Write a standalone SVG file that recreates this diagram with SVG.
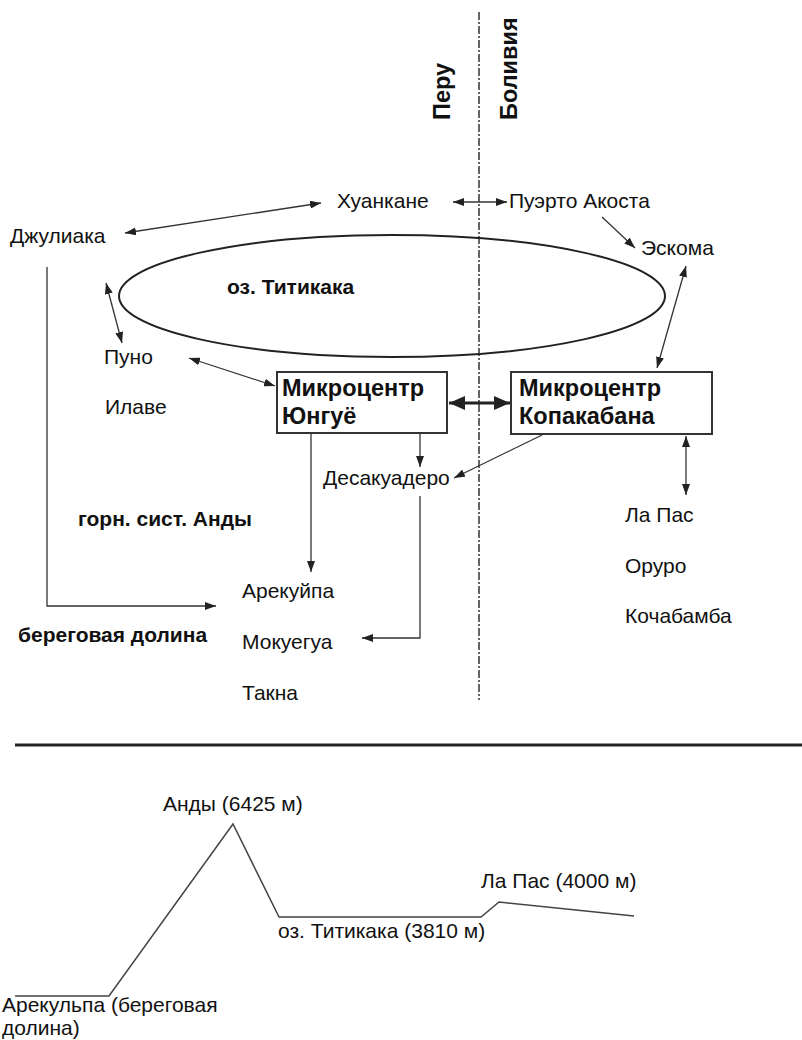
<svg xmlns="http://www.w3.org/2000/svg" width="802" height="1040" viewBox="0 0 802 1040">
<style>
  text { font-family: "Liberation Sans", Arial, sans-serif; fill: #111; }
  .t { font-size: 21px; }
  .b { font-size: 21px; font-weight: bold; }
  .bb { font-size: 23.5px; font-weight: bold; }
  .c { fill: none; stroke: #333; stroke-width: 1.3; }
  .box { fill: #fff; stroke: #333; stroke-width: 2; }
</style>
<defs>
  <marker id="ah" viewBox="0 0 11 8" refX="11" refY="4" markerWidth="11" markerHeight="8" markerUnits="userSpaceOnUse" orient="auto-start-reverse">
    <path d="M0,0 L11,4 L0,8 z" fill="#222"/>
  </marker>
  <marker id="ahb" viewBox="0 0 16 14" refX="16" refY="7" markerWidth="16" markerHeight="14" markerUnits="userSpaceOnUse" orient="auto-start-reverse">
    <path d="M0,0 L16,7 L0,14 z" fill="#222"/>
  </marker>
</defs>

<g id="border">
  <line x1="479" y1="12" x2="479" y2="700" stroke="#333" stroke-width="1.5" stroke-dasharray="8 2 2 2"/>
</g>

<g id="lake">
  <ellipse cx="392" cy="296" rx="273" ry="61" fill="none" stroke="#222" stroke-width="2"/>
  <text class="b" x="227" y="294">оз. Титикака</text>
</g>

<g id="connectors">
  <line class="c" x1="125" y1="233" x2="321" y2="203" marker-start="url(#ah)" marker-end="url(#ah)"/>
  <line class="c" x1="453" y1="202" x2="507" y2="202" marker-start="url(#ah)" marker-end="url(#ah)"/>
  <line class="c" x1="602" y1="217" x2="635" y2="248" marker-end="url(#ah)"/>
  <line class="c" x1="686" y1="266" x2="657" y2="368" marker-start="url(#ah)" marker-end="url(#ah)"/>
  <line class="c" x1="106" y1="283" x2="122" y2="343" marker-start="url(#ah)" marker-end="url(#ah)"/>
  <line class="c" x1="189" y1="358" x2="275" y2="386" marker-start="url(#ah)" marker-end="url(#ah)"/>
  <line x1="449" y1="403" x2="510" y2="403" stroke="#222" stroke-width="3" marker-start="url(#ahb)" marker-end="url(#ahb)"/>
  <line class="c" x1="420" y1="434" x2="420" y2="467" marker-end="url(#ah)"/>
  <line class="c" x1="542" y1="435" x2="454" y2="478" marker-end="url(#ah)"/>
  <line class="c" x1="686" y1="436" x2="686" y2="495" marker-start="url(#ah)" marker-end="url(#ah)"/>
  <line class="c" x1="311" y1="434" x2="311" y2="572" marker-end="url(#ah)"/>
  <polyline class="c" points="420,496 420,638 362,638" marker-end="url(#ah)"/>
  <polyline class="c" points="47,267 47,606 216,606" marker-end="url(#ah)"/>
</g>

<g id="peru-label"><text class="bb" transform="translate(450,120) rotate(-90)">Перу</text></g>
<g id="bolivia-label"><text class="bb" transform="translate(517,120) rotate(-90)">Боливия</text></g>

<g id="juliaca"><text class="t" x="10" y="243">Джулиака</text></g>
<g id="huancane"><text class="t" x="337" y="208">Хуанкане</text></g>
<g id="puerto-acosta"><text class="t" x="509" y="208">Пуэрто Акоста</text></g>
<g id="escoma"><text class="t" x="641" y="255">Эскома</text></g>
<g id="puno"><text class="t" x="104" y="364">Пуно</text></g>
<g id="ilave"><text class="t" x="105" y="414">Илаве</text></g>

<g id="yunguyo">
  <rect class="box" x="277" y="372" width="170" height="61"/>
  <text class="bb" x="282" y="396">Микроцентр</text>
  <text class="bb" x="282" y="424">Юнгуё</text>
</g>
<g id="copacabana">
  <rect class="box" x="511" y="372" width="201" height="62"/>
  <text class="bb" x="519" y="396">Микроцентр</text>
  <text class="bb" x="519" y="424">Копакабана</text>
</g>

<g id="desaguadero"><text class="t" x="323" y="485">Десакуадеро</text></g>
<g id="andes-label"><text class="b" x="78" y="526">горн. сист. Анды</text></g>
<g id="coast-label"><text class="b" x="18" y="642">береговая долина</text></g>
<g id="arequipa"><text class="t" x="242" y="598">Арекуйпа</text></g>
<g id="moquegua"><text class="t" x="242" y="649">Мокуегуа</text></g>
<g id="tacna"><text class="t" x="242" y="700">Такна</text></g>
<g id="lapaz"><text class="t" x="625" y="522">Ла Пас</text></g>
<g id="oruro"><text class="t" x="625" y="573">Оруро</text></g>
<g id="cochabamba"><text class="t" x="625" y="623">Кочабамба</text></g>

<g id="separator">
  <line x1="15" y1="745" x2="802" y2="745" stroke="#222" stroke-width="3"/>
</g>

<g id="profile">
  <polyline points="15,996 109,996 233,824 279,917 481,917 499,902 634,916" fill="none" stroke="#444" stroke-width="1.5"/>
  <text class="t" x="163" y="811">Анды (6425 м)</text>
  <text class="t" x="481" y="888">Ла Пас (4000 м)</text>
  <text class="t" x="278" y="938">оз. Титикака (3810 м)</text>
  <text class="t" x="2" y="1012">Арекульпа (береговая</text>
  <text class="t" x="2" y="1035">долина)</text>
</g>
</svg>
